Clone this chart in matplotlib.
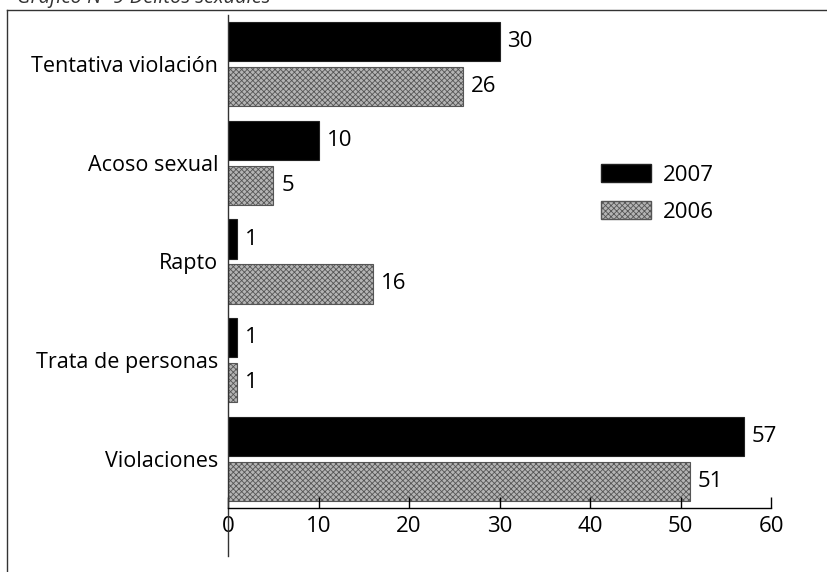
import matplotlib
matplotlib.use('Agg')
import matplotlib.pyplot as plt
from matplotlib.patches import Patch
from matplotlib.lines import Line2D
import numpy as np

categories = ['Tentativa violación', 'Acoso sexual', 'Rapto', 'Trata de personas', 'Violaciones']
values_2007 = [30, 10, 1, 1, 57]
values_2006 = [26, 5, 16, 1, 51]
xticks = [0, 10, 20, 30, 40, 50, 60]
title = 'Gráfico Nº 9 Delitos sexuales'

plt.rcParams['font.family'] = ['Open Sans', 'DejaVu Sans']
plt.rcParams['hatch.linewidth'] = 0.6

fig = plt.figure(figsize=(8.27, 5.72), dpi=100)
ax = fig.add_axes([228 / 827, 1 - 508 / 572, (771 - 228) / 827, (508 - 15) / 572])

y = np.arange(len(categories))
h = 0.396
off = 0.228
grey = '#b4b4b4'

ax.barh(y - off, values_2007, height=h, color='black', edgecolor='#222222', linewidth=0.8, label='2007')
ax.barh(y + off, values_2006, height=h, color=grey, edgecolor='#555555',
        hatch='xxxxxx', linewidth=0.8, label='2006')

fs = 15.5
fs_num = 16
for yi, v in zip(y, values_2007):
    ax.annotate(str(v), (v, yi - off), xytext=(8, 0), textcoords='offset pixels',
                va='center', ha='left', fontsize=fs_num)
for yi, v in zip(y, values_2006):
    ax.annotate(str(v), (v, yi + off), xytext=(8, 0), textcoords='offset pixels',
                va='center', ha='left', fontsize=fs_num)

ax.set_xlim(0, 60)
ax.set_ylim(len(categories) - 0.5, -0.5)
ax.set_yticks(y)
ax.set_yticklabels(categories, fontsize=fs)
ax.set_xticks(xticks)
ax.set_xticklabels([str(t) for t in xticks], fontsize=fs_num)
ax.tick_params(axis='y', length=0, pad=7)
ax.tick_params(axis='x', direction='in', length=8, width=1, pad=6)

for s in ['top', 'right', 'left']:
    ax.spines[s].set_visible(False)
ax.spines['bottom'].set_linewidth(1)

# left axis line runs past the x axis, as in the print
ax.add_line(Line2D([0, 0], [1, -0.098], transform=ax.transAxes, color='#333333',
                   linewidth=1, clip_on=False))

handles = [Patch(facecolor='black', edgecolor='#222222', label='2007'),
           Patch(facecolor=grey, edgecolor='#555555', hatch='xxxxxx', label='2006')]
ax.legend(handles=handles, loc='upper left', bbox_to_anchor=(601 / 827, 1 - 164 / 572),
          bbox_transform=fig.transFigure, frameon=False, fontsize=fs_num,
          handlelength=2.25, handleheight=0.88, handletextpad=0.55, labelspacing=0.7,
          borderpad=0, borderaxespad=0)

# outer frame of the page figure
fig.add_artist(Line2D([7 / 827, 1], [1 - 10 / 572, 1 - 10 / 572], transform=fig.transFigure,
                      color='#333333', linewidth=1))
fig.add_artist(Line2D([7 / 827, 7 / 827], [1 - 10 / 572, 0], transform=fig.transFigure,
                      color='#333333', linewidth=1))
# the caption sits at the very top edge of the scan, mostly cut off
fig.text(17 / 827, 1 + 2 / 572, title, fontsize=14.5, style='italic', ha='left', va='center',
         color='#333333')

fig.savefig('out.png', dpi=100)
